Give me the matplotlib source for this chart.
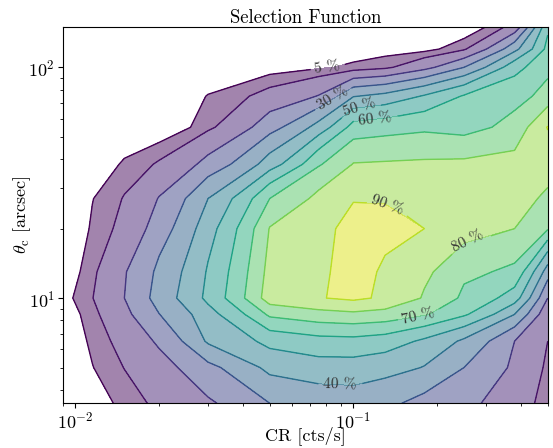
import numpy as np
import matplotlib
matplotlib.use('Agg')
import matplotlib.pyplot as plt

plt.rcParams['font.family'] = 'serif'
plt.rcParams['font.serif'] = ['cmr10', 'DejaVu Serif']
plt.rcParams['mathtext.fontset'] = 'cm'
plt.rcParams['axes.formatter.use_mathtext'] = True

# grid of count rates [cts/s] and core radii [arcsec]
cr = [0.009, 0.0115, 0.015, 0.02, 0.03, 0.05, 0.075, 0.1, 0.13, 0.18, 0.25, 0.38, 0.5]
theta_c = [3.5, 5, 6.5, 8.5, 10, 13, 20, 27, 38, 55, 75, 100, 120, 150]

# selection probability in percent, rows = theta_c, cols = cr
sel = [
    [0, 2, 6.8, 11.9, 18.7, 30, 34, 35, 32, 26.8, 22.5, 14, 7],
    [0, 4.8, 10.2, 16.3, 27.4, 43, 46, 46, 44, 39.5, 30, 18, 8.5],
    [0.3, 6.2, 13.2, 21.6, 41.5, 53, 56.5, 57, 55, 48, 38, 20, 10],
    [1, 8.1, 17.7, 29.8, 46.2, 72, 76.5, 78, 76.5, 71, 61.5, 40, 12],
    [2.8, 9.8, 20, 34.3, 52.5, 85.5, 89.5, 92, 88.2, 79, 68, 55, 20],
    [0.5, 8.6, 19.3, 32.3, 51, 83.5, 88.9, 92.5, 89, 82, 72, 68, 35],
    [0, 5.7, 12.7, 25, 46, 80.5, 87.5, 93, 92, 90, 85, 80, 71],
    [0, 4.8, 10.5, 20.5, 40, 70, 83, 89.5, 89.5, 88, 86, 84, 78],
    [0, 1.5, 5.8, 11, 23.3, 45, 69, 80.5, 81, 81.5, 82, 83, 85],
    [0, 0, 0, 0, 8.4, 26, 44, 64, 66, 68, 66, 74, 90.5],
    [0, 0, 0, 0, 5.3, 13, 20.5, 39.5, 43, 51, 61, 66, 74],
    [0, 0, 0, 0, 0, 2, 4.3, 6.1, 8.5, 17, 30, 57, 67],
    [0, 0, 0, 0, 0, 0, 0, 2, 2.5, 3, 9, 37, 63],
    [0, 0, 0, 0, 0, 0, 0, 0, 0, 0, 0, 13, 58],
]

levels = [5, 10, 20, 30, 40, 50, 60, 70, 80, 90, 100]
# percentage labels and roughly where they sit
label_lev = [5, 30, 50, 60, 90, 80, 70, 40]
label_pos = [(0.0802, 100.6), (0.082, 77.2), (0.1042, 68.7), (0.1197, 61.1),
             (0.130, 24.7), (0.259, 17.3), (0.169, 8.9), (0.0896, 4.43)]

X, Y = np.meshgrid(cr, theta_c)
Z = np.array(sel)

fig = plt.figure(figsize=(5.53, 4.48), dpi=100)
ax = fig.add_axes([0.1134, 0.0998, 0.8770, 0.8406])

ax.contourf(X, Y, Z, levels=levels, cmap='viridis', alpha=0.5)
cs = ax.contour(X, Y, Z, levels=levels, cmap='viridis', linewidths=1.0)

ax.set_xscale('log')
ax.set_yscale('log')
ax.set_xlim(0.009, 0.5)
ax.set_ylim(3.5, 150)


def snap(path, xy):
    # closest point of a contour line to xy, in screen space
    target = ax.transData.transform(xy)
    best, best_d = None, np.inf
    for poly in path.to_polygons(closed_only=False):
        p = ax.transData.transform(poly)
        for a, b in zip(p[:-1], p[1:]):
            t = np.linspace(0, 1, 40)[:, None]
            pts = a + (b - a) * t
            d = ((pts - target) ** 2).sum(axis=1)
            i = np.argmin(d)
            if d[i] < best_d:
                best, best_d = pts[i], d[i]
    return ax.transData.inverted().transform(best)


for lev, pos in zip(label_lev, label_pos):
    k = levels.index(lev)
    xy = snap(cs.get_paths()[k], pos)
    ax.clabel(cs, levels=levels[:k + 1], fmt='%d %%', fontsize=11,
              colors='#333333', manual=[xy], inline=True)

ax.set_title('Selection Function', fontsize=13.5, pad=3)
ax.set_xlabel('CR [cts/s]', fontsize=13, labelpad=-4)
ax.set_ylabel(r'$\theta_{\rm c}$ [arcsec]', fontsize=13, labelpad=-3)
ax.tick_params(labelsize=13, pad=2)

fig.savefig('out.png', dpi=100)
